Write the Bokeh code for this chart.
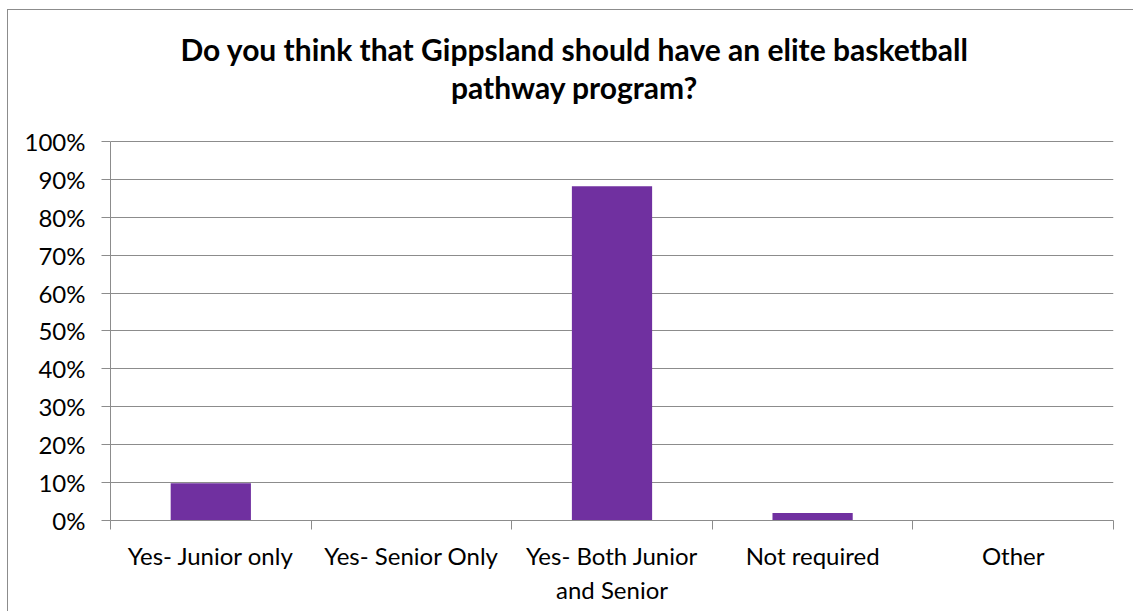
from bokeh.plotting import figure
from bokeh.models import FixedTicker, Range1d, NumeralTickFormatter, ColumnDataSource, Label
from bokeh.embed import file_html
from bokeh.resources import INLINE

title_lines = ["Do you think that Gippsland should have an elite basketball", "pathway program?"]
categories = ["Yes- Junior only", "Yes- Senior Only", "Yes- Both Junior\nand Senior", "Not required", "Other"]
values = [0.098, 0.0, 0.882, 0.020, 0.0]
y_ticks = [0.0, 0.1, 0.2, 0.3, 0.4, 0.5, 0.6, 0.7, 0.8, 0.9, 1.0]

centers = [i + 0.5 for i in range(len(categories))]
bounds = list(range(len(categories) + 1))

FONT = "Lato"
GRAY = "#8C8C8C"

# frame spans the whole height above the x axis; the title sits above the 100% line
p = figure(width=1126, height=602, output_backend="svg", toolbar_location=None,
           x_range=Range1d(0, len(categories)), y_range=Range1d(0, 1.3456),
           title_location=None,
           min_border_left=102, min_border_right=21, min_border_top=0, min_border_bottom=92)
p.margin = (9, 0, 0, 7)

for i, line in enumerate(title_lines):
    p.add_layout(Label(x=len(categories) / 2 - 0.187, y=1.243 - 0.1 * i,
                       text=line, text_align="center", text_baseline="middle",
                       text_font=FONT, text_font_size="30px", text_font_style="bold",
                       text_color="#000000"))

src = ColumnDataSource(dict(x=centers, top=values))
p.vbar(x="x", top="top", width=0.4, source=src, fill_color="#7030A0", line_color=None)

p.outline_line_color = None
p.background_fill_color = "white"
p.border_fill_color = "white"
p.styles = {"border-left": "1px solid #8C8C8C", "border-top": "1px solid #8C8C8C"}

# y axis
p.yaxis.ticker = FixedTicker(ticks=y_ticks)
p.yaxis.bounds = (0, 1)
p.yaxis.formatter = NumeralTickFormatter(format="0%")
p.yaxis.axis_line_color = GRAY
p.yaxis.major_tick_line_color = GRAY
p.yaxis.major_tick_in = 0
p.yaxis.major_tick_out = 9
p.yaxis.minor_tick_line_color = None
p.yaxis.major_label_text_font = FONT
p.yaxis.major_label_text_font_size = "24px"
p.yaxis.major_label_text_color = "#000000"
p.yaxis.major_label_standoff = 16

# x axis
p.xaxis.ticker = FixedTicker(ticks=centers, minor_ticks=bounds)
p.xaxis.major_label_overrides = {c: lab for c, lab in zip(centers, categories)}
p.xaxis.axis_line_color = GRAY
p.xaxis.major_tick_line_color = None
p.xaxis.major_tick_in = 0
p.xaxis.major_tick_out = 0
p.xaxis.minor_tick_line_color = GRAY
p.xaxis.minor_tick_in = 0
p.xaxis.minor_tick_out = 9
p.xaxis.major_label_text_font = FONT
p.xaxis.major_label_text_font_size = "24px"
p.xaxis.major_label_text_color = "#000000"
p.xaxis.major_label_standoff = 11

p.xgrid.visible = False
p.ygrid.ticker = FixedTicker(ticks=y_ticks)
p.ygrid.grid_line_color = GRAY
p.ygrid.grid_line_width = 1

open("out.html", "w").write(file_html(p, INLINE))
